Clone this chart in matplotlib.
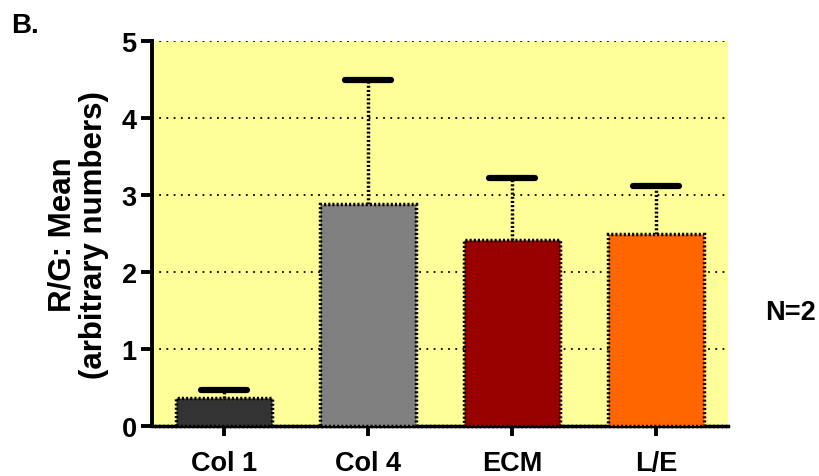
import numpy as np
import matplotlib
matplotlib.use('Agg')
import matplotlib.pyplot as plt

plt.rcParams['font.family'] = ['Liberation Sans', 'DejaVu Sans']
plt.rcParams['font.weight'] = 'bold'

groups = ['Col 1', 'Col 4', 'ECM', 'L/E']
means = [0.36, 2.88, 2.42, 2.49]
upper = [0.47, 4.49, 3.22, 3.12]   # top of error bar
colors = ['#333333', '#808080', '#990000', '#FF6600']

fig = plt.figure(figsize=(8.19, 4.77), dpi=100)
ax = fig.add_axes([0.1856, 0.1048, 0.7034, 0.8072])
ax.set_facecolor('#FFFF99')

x = np.arange(len(groups))
ax.set_xlim(-0.5, 3.5)
ax.set_ylim(0, 5)

for yv in [1, 2, 3, 4, 5]:
    ax.axhline(yv, color='black', ls=(0, (1, 3)), lw=1.3, zorder=1)

ax.bar(x, means, width=0.67, color=colors, edgecolor='black',
       linewidth=2.5, linestyle=(0, (0.6, 0.6)), zorder=3)

err = np.array(upper) - np.array(means)
for xi, m, e in zip(x, means, err):
    ax.plot([xi, xi], [m, m + e], color='black', lw=2.5,
            ls=(0, (0.6, 0.6)), zorder=2)
    ax.plot([xi - 0.16, xi + 0.16], [m + e, m + e], color='black', lw=4.5,
            solid_capstyle='round', zorder=4)

ax.spines['top'].set_visible(False)
ax.spines['right'].set_visible(False)
ax.spines['left'].set_linewidth(2.8)
ax.spines['bottom'].set_linewidth(2.5)
ax.spines['bottom'].set_linestyle((0, (0.6, 0.6)))

ax.set_yticks([0, 1, 2, 3, 4, 5])
ax.set_xticks(x)
ax.set_xticklabels(groups, fontsize=19.5, fontweight='bold')
ax.tick_params(axis='y', labelsize=19.5, width=2.8, length=8, pad=3)
ax.tick_params(axis='x', width=2.8, length=7, pad=10)
for lab in ax.get_yticklabels():
    lab.set_fontweight('bold')

fig.text(0.0952, 0.508, 'R/G: Mean\n(arbitrary numbers)', fontsize=22.5,
         fontweight='bold', rotation=90, ha='center', va='center',
         multialignment='center', linespacing=1.05)

fig.text(0.013, 0.93, 'B.', fontsize=20, fontweight='bold')
fig.text(0.934, 0.329, 'N=2', fontsize=19.5, fontweight='bold')

fig.savefig('out.png', dpi=100)
